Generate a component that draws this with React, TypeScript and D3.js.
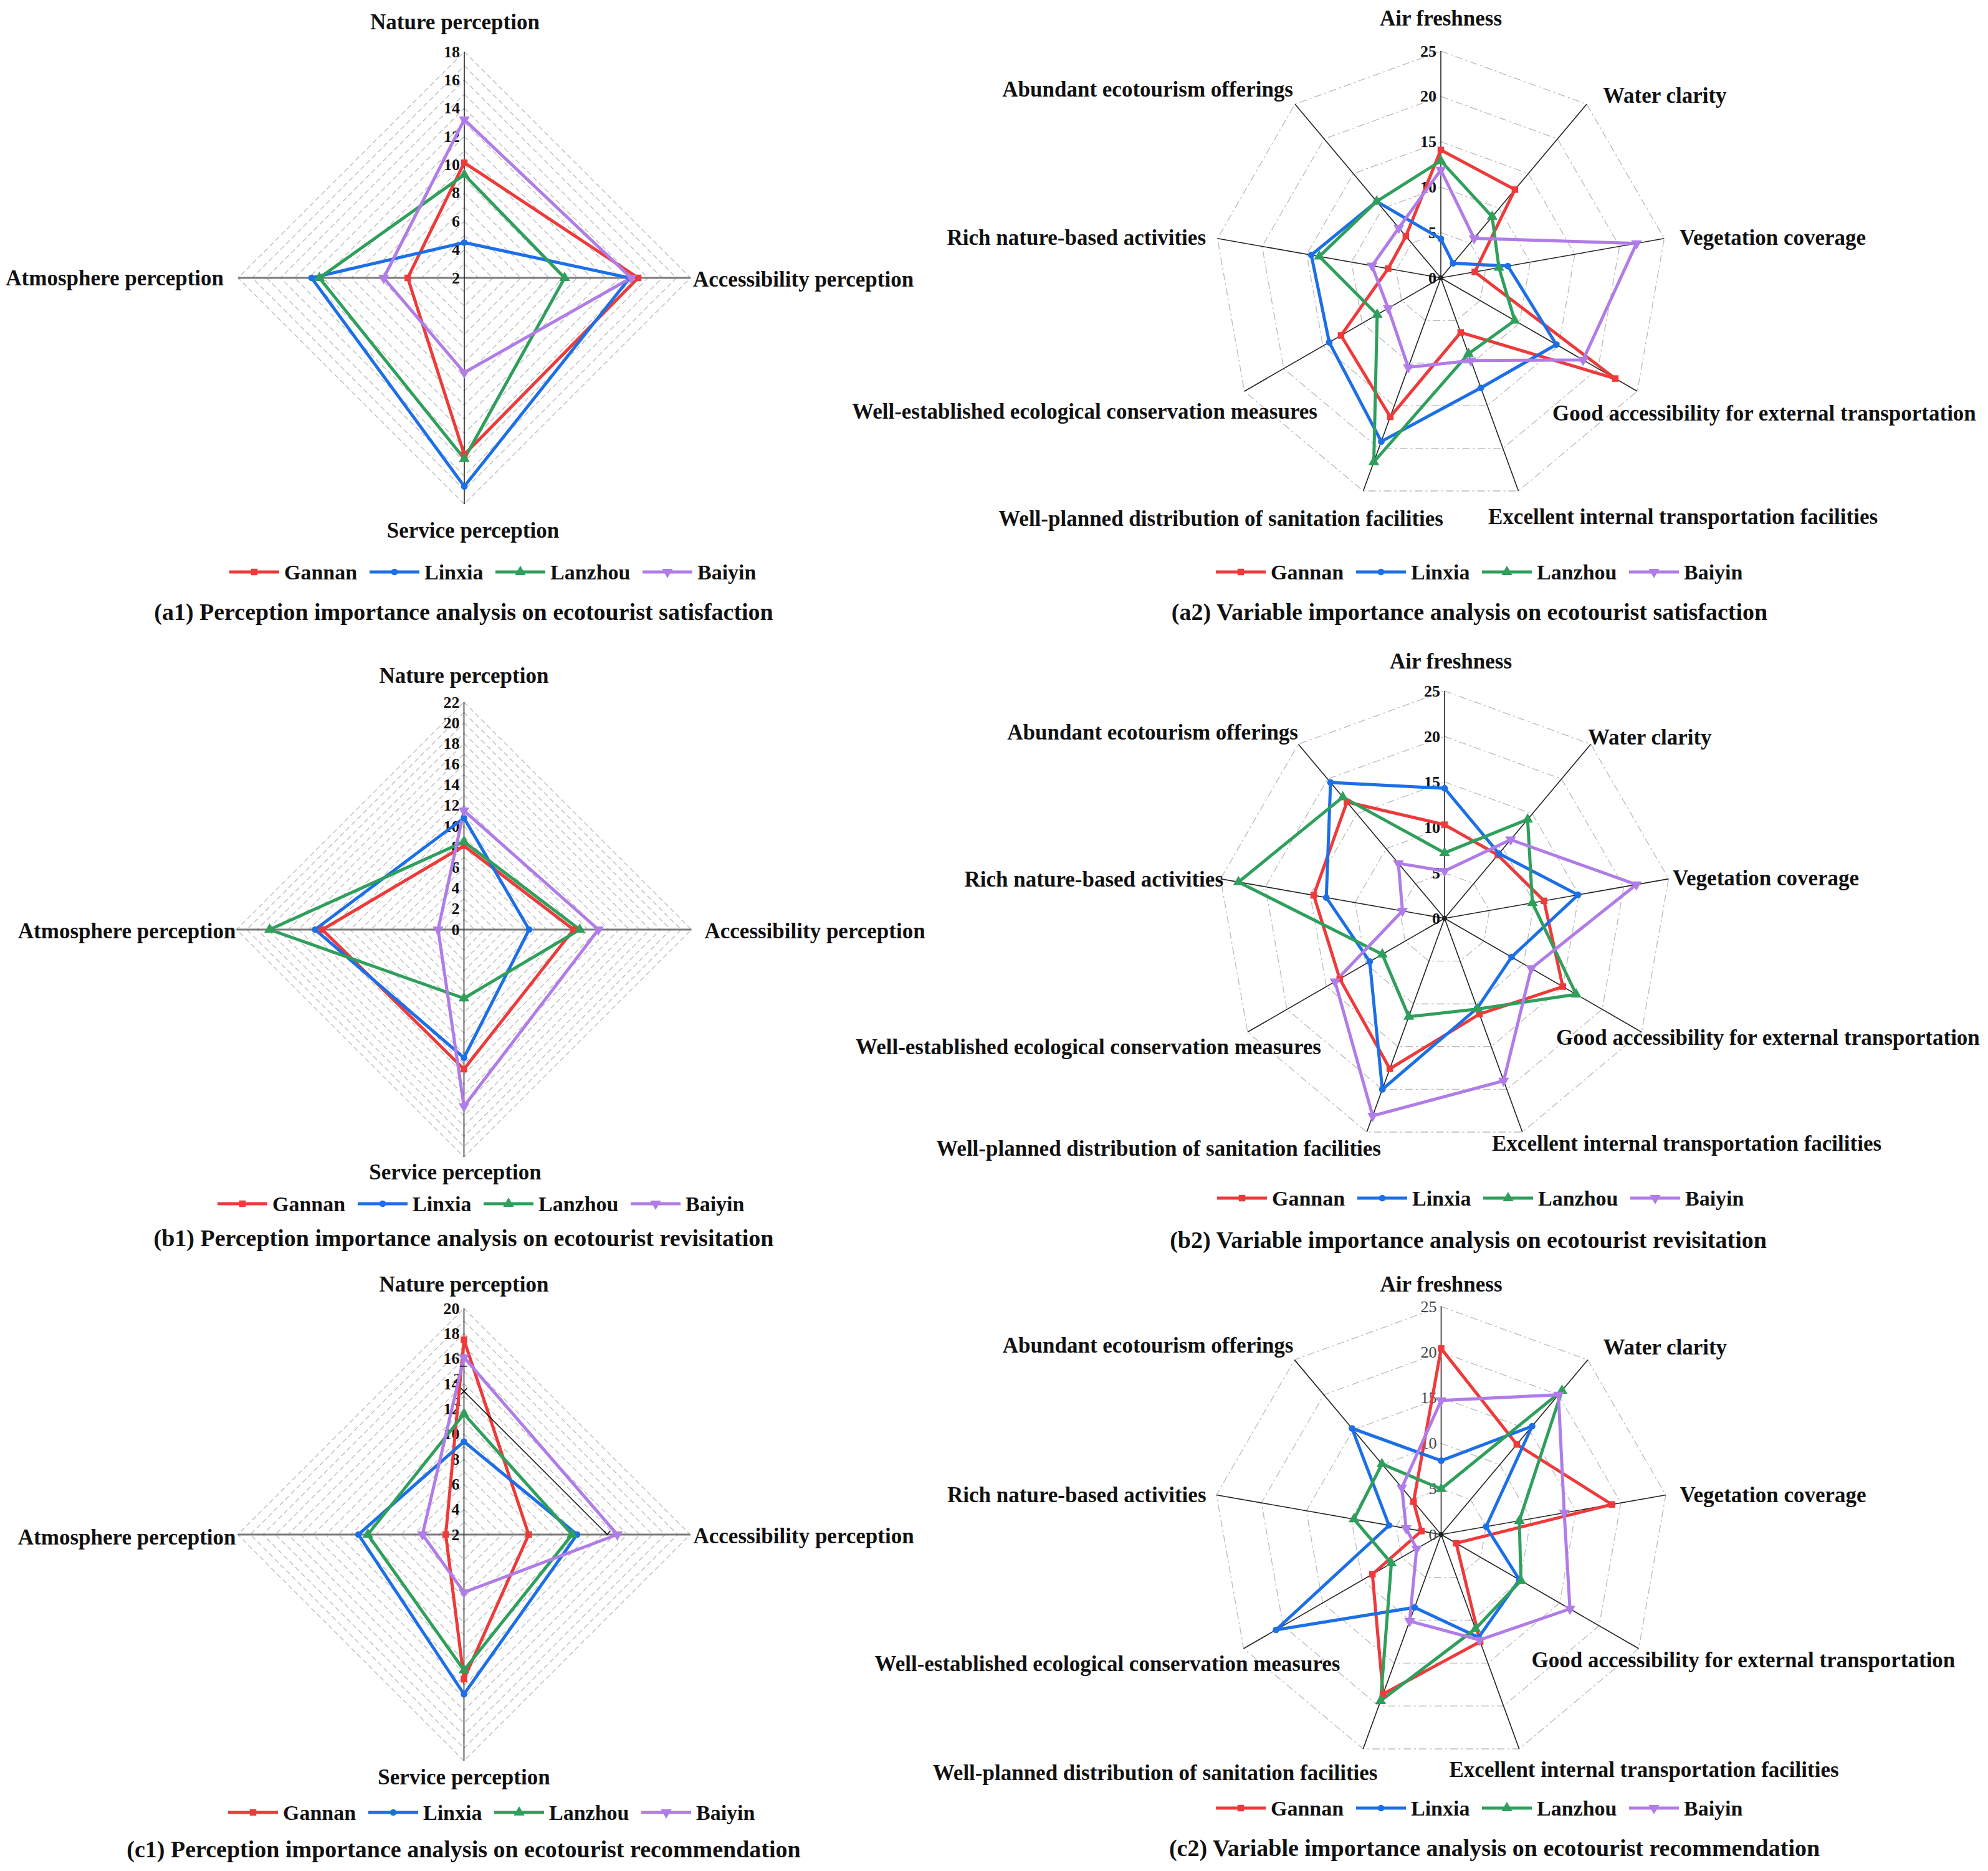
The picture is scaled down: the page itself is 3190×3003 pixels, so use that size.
import React from 'react';
import * as d3 from 'd3';

// ---------- data ----------
const seriesNames = ['Gannan', 'Linxia', 'Lanzhou', 'Baiyin'];
const seriesColors = ['#ee3a3a', '#1c6fe6', '#2f9f5c', '#b07ce8'];

const perceptionAxes = ['Nature perception', 'Accessibility perception', 'Service perception', 'Atmosphere perception'];
const variableAxes = [
  'Air freshness',
  'Water clarity',
  'Vegetation coverage',
  'Good accessibility for external transportation',
  'Excellent internal transportation facilities',
  'Well-planned distribution of sanitation facilities',
  'Well-established ecological conservation measures',
  'Rich nature-based activities',
  'Abundant ecotourism offerings',
];

const a1Ticks = [2, 4, 6, 8, 10, 12, 14, 16, 18];
const b1Ticks = [0, 2, 4, 6, 8, 10, 12, 14, 16, 18, 20, 22];
const c1Ticks = [2, 4, 6, 8, 10, 12, 14, 16, 18, 20];
const variableTicks = [0, 5, 10, 15, 20, 25];

// (a1) perception importance – satisfaction  [Nature, Accessibility, Service, Atmosphere]
const a1Gannan = [10.15, 14.3, 14.5, 6.0];
const a1Linxia = [4.5, 13.7, 16.75, 12.8];
const a1Lanzhou = [9.3, 9.1, 14.8, 12.25];
const a1Baiyin = [13.2, 13.8, 8.7, 7.7];

// (b1) perception importance – revisitation
const b1Gannan = [8.1, 10.6, 13.5, 13.7];
const b1Linxia = [10.8, 6.3, 12.4, 14.4];
const b1Lanzhou = [8.5, 11.2, 6.65, 18.8];
const b1Baiyin = [11.5, 13.0, 17.1, 2.5];

// (c1) perception importance – recommendation
const c1Gannan = [17.5, 7.15, 13.5, 3.45];
const c1Linxia = [9.4, 11.0, 14.7, 10.4];
const c1Lanzhou = [11.6, 10.6, 12.8, 9.65];
const c1Baiyin = [16.1, 14.2, 6.6, 5.3];
const c1Stray = [13.4, 13.4]; // thin black stray segment Nature -> Accessibility

// (a2) variable importance – satisfaction (9 variables, clockwise from top)
const a2Gannan = [14.1, 12.7, 3.8, 22.2, 6.4, 16.3, 12.7, 5.9, 6.0];
const a2Linxia = [4.3, 2.1, 7.5, 14.7, 12.9, 19.2, 14.2, 14.5, 11.0];
const a2Lanzhou = [12.9, 8.8, 6.5, 9.4, 8.9, 21.6, 8.1, 13.6, 11.0];
const a2Baiyin = [11.9, 5.7, 21.9, 18.1, 9.7, 10.5, 6.7, 7.7, 7.2];

// (b2) variable importance – revisitation
const b2Gannan = [10.3, 9.1, 11.1, 15.0, 11.2, 17.6, 13.3, 14.6, 16.7];
const b2Linxia = [14.3, 9.3, 14.9, 8.5, 10.5, 20.0, 9.5, 13.2, 19.5];
const b2Lanzhou = [7.2, 14.2, 9.8, 16.7, 10.6, 11.5, 7.9, 23.0, 17.4];
const b2Baiyin = [5.2, 11.3, 21.4, 11.0, 19.0, 23.1, 13.9, 4.7, 7.9];

// (c2) variable importance – recommendation
const c2Gannan = [20.4, 12.9, 19.0, 1.9, 12.5, 18.6, 8.7, 2.2, 4.7];
const c2Linxia = [8.1, 15.5, 5.0, 9.9, 12.0, 8.5, 20.9, 5.8, 15.2];
const c2Lanzhou = [5.0, 20.6, 8.7, 10.1, 11.0, 19.4, 6.3, 9.7, 10.1];
const c2Baiyin = [14.7, 20.0, 13.7, 16.3, 12.3, 10.1, 3.1, 3.9, 6.7];

// ---------- layout ----------
const FONT = "'Liberation Serif', 'Times New Roman', serif";
type LabelPos = [number, number, string];

interface PanelCfg {
  cx: number; cy: number; R: number;
  axes: string[]; domain: [number, number]; ticks: number[]; ringStep: number;
  values: number[][];
  labels: LabelPos[];
  legendX: number; legendY: number;
  caption: string; capX: number; capY: number;
  tickWeight: string; tickFill: string;
  diamond: boolean;
  stray?: boolean;
}

const panels: PanelCfg[] = [
  {
    cx: 745, cy: 446, R: 363, axes: perceptionAxes, domain: [2, 18], ticks: a1Ticks, ringStep: 1,
    values: [a1Gannan, a1Linxia, a1Lanzhou, a1Baiyin],
    labels: [[-15, -411, 'middle'], [367, 2, 'start'], [14, 405, 'middle'], [-386, 0, 'end']],
    legendX: 368, legendY: 918,
    caption: '(a1) Perception importance analysis on ecotourist satisfaction', capX: 744, capY: 982,
    tickWeight: 'bold', tickFill: '#111', diamond: true,
  },
  {
    cx: 2312, cy: 446, R: 364, axes: variableAxes, domain: [0, 25], ticks: variableTicks, ringStep: 5,
    values: [a2Gannan, a2Linxia, a2Lanzhou, a2Baiyin],
    labels: [[0, -417, 'middle'], [260, -293, 'start'], [383, -65, 'start'], [179, 217, 'start'], [76, 383, 'start'],
      [4, 386, 'end'], [-198, 214, 'end'], [-377, -65, 'end'], [-237, -303, 'end']],
    legendX: 1951, legendY: 918,
    caption: '(a2) Variable importance analysis on ecotourist satisfaction', capX: 2358, capY: 982,
    tickWeight: 'bold', tickFill: '#111', diamond: false,
  },
  {
    cx: 744.5, cy: 1492, R: 365, axes: perceptionAxes, domain: [0, 22], ticks: b1Ticks, ringStep: 1,
    values: [b1Gannan, b1Linxia, b1Lanzhou, b1Baiyin],
    labels: [[0, -408, 'middle'], [386, 2, 'start'], [-14, 389, 'middle'], [-366, 2, 'end']],
    legendX: 349, legendY: 1932,
    caption: '(b1) Perception importance analysis on ecotourist revisitation', capX: 744, capY: 1987,
    tickWeight: 'bold', tickFill: '#111', diamond: true,
  },
  {
    cx: 2318, cy: 1474, R: 365, axes: variableAxes, domain: [0, 25], ticks: variableTicks, ringStep: 5,
    values: [b2Gannan, b2Linxia, b2Lanzhou, b2Baiyin],
    labels: [[10, -413, 'middle'], [230, -291, 'start'], [366, -65, 'start'], [179, 191, 'start'], [76, 361, 'start'],
      [-102, 369, 'end'], [-198, 206, 'end'], [-355, -63, 'end'], [-235, -299, 'end']],
    legendX: 1953, legendY: 1923,
    caption: '(b2) Variable importance analysis on ecotourist revisitation', capX: 2356, capY: 1990,
    tickWeight: 'bold', tickFill: '#111', diamond: false,
  },
  {
    cx: 744.5, cy: 2463, R: 363, axes: perceptionAxes, domain: [2, 20], ticks: c1Ticks, ringStep: 1,
    values: [c1Gannan, c1Linxia, c1Lanzhou, c1Baiyin],
    labels: [[0, -402, 'middle'], [368, 2, 'start'], [0, 389, 'middle'], [-366, 4, 'end']],
    legendX: 366, legendY: 2909,
    caption: '(c1) Perception importance analysis on ecotourist recommendation', capX: 744, capY: 2968,
    tickWeight: 'bold', tickFill: '#111', diamond: true, stray: true,
  },
  {
    cx: 2312.5, cy: 2463, R: 366, axes: variableAxes, domain: [0, 25], ticks: variableTicks, ringStep: 5,
    values: [c2Gannan, c2Linxia, c2Lanzhou, c2Baiyin],
    labels: [[0, -402, 'middle'], [260, -301, 'start'], [383, -64, 'start'], [145, 201, 'start'], [13, 377, 'start'],
      [-102, 382, 'end'], [-162, 207, 'end'], [-377, -64, 'end'], [-237, -304, 'end']],
    legendX: 1951, legendY: 2902,
    caption: '(c2) Variable importance analysis on ecotourist recommendation', capX: 2398, capY: 2966,
    tickWeight: 'normal', tickFill: '#444', diamond: false,
  },
];

const legendOffsets = [0, 225, 427, 663];
const symbolTypes = [d3.symbolSquare, d3.symbolCircle, d3.symbolTriangle, d3.symbolTriangle];
const symbolRot = [0, 0, 0, 180];
const symbolSize = [110, 90, 130, 130];

function Marker({ x, y, s }: { x: number; y: number; s: number }) {
  const d = d3.symbol().type(symbolTypes[s]).size(symbolSize[s])() as string;
  return <path d={d} transform={`translate(${x},${y}) rotate(${symbolRot[s]})`} fill={seriesColors[s]} />;
}

function Panel({ p }: { p: PanelCfg }) {
  const n = p.axes.length;
  const r = d3.scaleLinear().domain(p.domain).range([0, p.R]);
  const ang = (i: number) => (i * 2 * Math.PI) / n;
  const pt = (i: number, v: number): [number, number] => [
    p.cx + r(v) * Math.sin(ang(i)),
    p.cy - r(v) * Math.cos(ang(i)),
  ];
  const closed = d3.line().curve(d3.curveLinearClosed);
  const ringVals = d3.range(p.domain[0] + p.ringStep, p.domain[1] + 1e-6, p.ringStep);

  return (
    <g>
      {/* grid rings */}
      {ringVals.map((v) => (
        <path
          key={'ring' + v}
          d={closed(d3.range(n).map((i) => pt(i, v))) as string}
          fill="none"
          stroke="#bdbdbd"
          strokeWidth={1.4}
          strokeDasharray={p.diamond ? '8 5' : '12 5 3 5'}
        />
      ))}
      {/* spokes */}
      {p.diamond ? (
        <g>
          <line x1={p.cx - p.R} y1={p.cy} x2={p.cx + p.R} y2={p.cy} stroke="#7a7a7a" strokeWidth={3.2} />
          <line x1={p.cx} y1={p.cy - p.R} x2={p.cx} y2={p.cy + p.R} stroke="#222" strokeWidth={1.6} />
        </g>
      ) : (
        d3.range(n).map((i) => {
          const [x, y] = pt(i, p.domain[1]);
          return <line key={'sp' + i} x1={p.cx} y1={p.cy} x2={x} y2={y} stroke="#222" strokeWidth={1.6} />;
        })
      )}
      {!p.diamond && <circle cx={p.cx} cy={p.cy} r={4} fill="#222" />}
      {/* tick labels */}
      {p.ticks.map((t) => (
        <text
          key={'t' + t}
          x={p.cx - 7}
          y={p.cy - r(t)}
          textAnchor="end"
          dominantBaseline="central"
          fontFamily={FONT}
          fontWeight={p.tickWeight}
          fontSize={26}
          fill={p.tickFill}
        >
          {t}
        </text>
      ))}
      {p.stray && (
        <g fontFamily={FONT} fontWeight="bold" fontSize={24} fill="#111">
          <text x={p.cx - 5} y={p.cy - r(14) - 9} textAnchor="end" dominantBaseline="central">2</text>
          <text x={p.cx - 3} y={p.cy - r(12) - 12} textAnchor="end" dominantBaseline="central">1</text>
        </g>
      )}
      {/* series */}
      {p.values.map((vals, s) => (
        <path
          key={'s' + s}
          d={closed(vals.map((v, i) => pt(i, v))) as string}
          fill="none"
          stroke={seriesColors[s]}
          strokeWidth={5}
          strokeLinejoin="miter"
        />
      ))}
      {p.values.map((vals, s) =>
        vals.map((v, i) => {
          const [x, y] = pt(i, v);
          return <Marker key={'m' + s + '-' + i} x={x} y={y} s={s} />;
        })
      )}
      {p.stray && (() => {
        const a = pt(0, c1Stray[0]);
        const b = pt(1, c1Stray[1]);
        const tk = pt(0, 15.4);
        return (
          <g stroke="#111" strokeWidth={1.6} fill="none">
            <line x1={a[0]} y1={a[1]} x2={b[0]} y2={b[1]} />
            <path d={`M${a[0] - 5},${a[1] - 5}L${a[0] + 5},${a[1] + 5}M${a[0] - 5},${a[1] + 5}L${a[0] + 5},${a[1] - 5}`} />
            <path d={`M${b[0] - 5},${b[1] - 6}L${b[0]},${b[1]}L${b[0] + 5},${b[1] - 6}`} />
            <line x1={tk[0] - 7} y1={tk[1]} x2={tk[0] + 5} y2={tk[1]} />
          </g>
        );
      })()}
      {/* axis labels */}
      {p.axes.map((name, i) => {
        const [dx, dy, anchor] = p.labels[i];
        return (
          <text
            key={'al' + i}
            x={p.cx + dx}
            y={p.cy + dy}
            textAnchor={anchor as any}
            dominantBaseline="central"
            fontFamily={FONT}
            fontWeight="bold"
            fontSize={35}
            fill="#111"
          >
            {name}
          </text>
        );
      })}
      {/* legend */}
      {seriesNames.map((name, s) => {
        const lx = p.legendX + legendOffsets[s];
        return (
          <g key={'lg' + s}>
            <line x1={lx} y1={p.legendY} x2={lx + 80} y2={p.legendY} stroke={seriesColors[s]} strokeWidth={5} />
            <Marker x={lx + 40} y={p.legendY} s={s} />
            <text
              x={lx + 88}
              y={p.legendY}
              dominantBaseline="central"
              fontFamily={FONT}
              fontWeight="bold"
              fontSize={34}
              fill="#111"
            >
              {name}
            </text>
          </g>
        );
      })}
      {/* caption */}
      <text
        x={p.capX}
        y={p.capY}
        textAnchor="middle"
        dominantBaseline="central"
        fontFamily={FONT}
        fontWeight="bold"
        fontSize={38}
        fill="#111"
      >
        {p.caption}
      </text>
    </g>
  );
}

export default function App() {
  return (
    <svg
      width={3190}
      height={3003}
      viewBox="0 0 3190 3003"
      style={{ position: 'absolute', left: 0, top: 0, background: '#fff', display: 'block' }}
    >
      <rect x={0} y={0} width={3190} height={3003} fill="#fff" />
      {panels.map((p, k) => (
        <Panel key={k} p={p} />
      ))}
    </svg>
  );
}
